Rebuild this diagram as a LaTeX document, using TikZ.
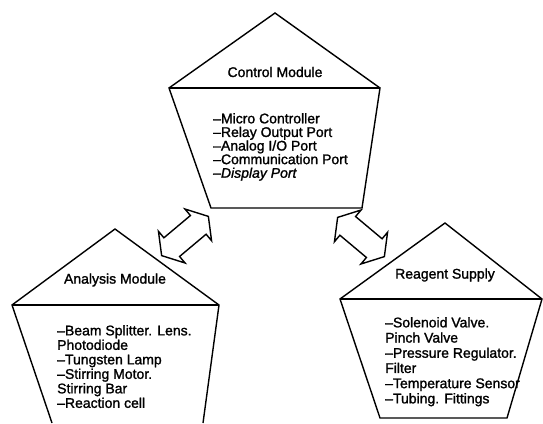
\documentclass[tikz,border=0pt]{standalone}
\usepackage{fontspec}
\setmainfont{Liberation Sans}[FakeBold=1.4]
\usetikzlibrary{shapes.arrows}

\tikzset{
	modline/.style={line width=1.4pt, line join=miter},
	modtitle/.style={font=\fontsize{14}{14}\selectfont},
	modlist/.style={anchor=north west, align=left, inner sep=0pt, font=\fontsize{14}{14.5}\selectfont},
	link/.style={draw, line width=1.4pt, double arrow, double arrow head extend=8.5pt,
		double arrow tip angle=115, minimum height=61pt, minimum width=0pt,
		inner xsep=0pt, inner ysep=11.5pt}
}

\begin{document}
\begin{tikzpicture}[x=1pt, y=-1pt]
		\useasboundingbox (0, 0) rectangle (543, 423);
	
		% control module
		\draw[modline] (169, 88) -- (275, 13) -- (380, 88) -- (362, 208) -- (211, 208) -- cycle;
		\draw[modline] (169, 88) -- (380, 88);
		\node[modtitle] (ctrl) at (275, 72) {Control Module};
		\node[modlist, font=\fontsize{14}{13.6}\selectfont] (ctrlparts) at (213, 113) {--Micro Controller\\--Relay Output Port\\--Analog I/O Port\\--Communication Port\\{\itshape --Display Port}};
		
		% analysis module, runs off the bottom
		\draw[modline] (52, 423) -- (12, 305) -- (115, 229) -- (219, 305) -- (203, 423);
		\draw[modline] (12, 305) -- (219, 305);
		\node[modtitle] (ana) at (115, 280) {Analysis Module};
		\node[modlist] (anaparts) at (57, 325) {--Beam Splitter. Lens.\\Photodiode\\--Tungsten Lamp\\--Stirring Motor.\\Stirring Bar\\--Reaction cell};
		
		% reagent supply
		\draw[modline] (340, 299) -- (445, 223) -- (542, 299) -- (507, 418) -- (380, 418) -- cycle;
		\draw[modline] (340, 299) -- (542, 299);
		\node[modtitle] (reag) at (445, 275) {Reagent Supply};
		\node[modlist, font=\fontsize{14}{15.2}\selectfont] (reagparts) at (385, 317) {--Solenoid Valve.\\Pinch Valve\\--Pressure Regulator.\\Filter\\--Temperature Sensor\\--Tubing. Fittings};
		
		% links
		\node[link, rotate=40] (ctrlana) at (185, 236) {};
		\node[link, rotate=-40] (ctrlreag) at (361, 237) {};
	\end{tikzpicture}
\end{document}
